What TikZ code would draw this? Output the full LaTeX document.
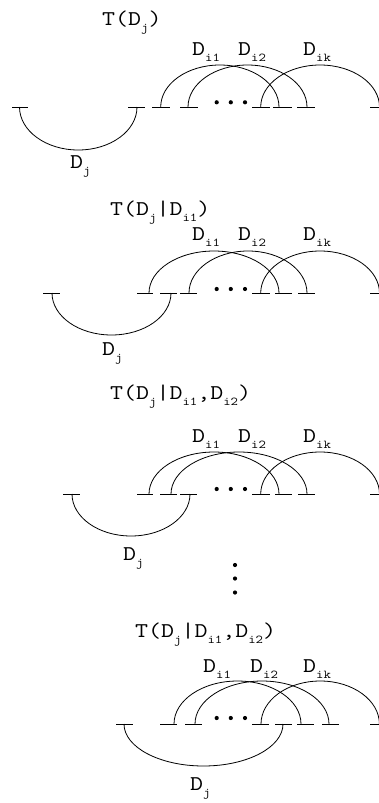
\documentclass[tikz,border=0pt]{standalone}
\usepackage{fontspec}
\newfontfamily\monofam[FakeStretch=1.2]{Latin Modern Mono}
\newcommand\subtxt[1]{\raisebox{-6pt}{\fontsize{12}{12}\selectfont #1}}
\newcommand\Dsub[1]{D\subtxt{#1}}
\tikzset{
  lbl/.style={anchor=base west, inner sep=0pt, font=\monofam\fontsize{21}{21}\selectfont},
  seg/.style={line width=0.8pt},
  arcline/.style={line width=0.8pt},
  dotmark/.style={fill=black},
}
\begin{document}
\begin{tikzpicture}[x=1pt,y=-1pt]
\useasboundingbox (0,0) rectangle (379,803);

% ---------- Panel 1 ----------
\node[lbl] (t1) at (102,25) {T(\Dsub{j})};
\node[lbl] (a1) at (192,55) {\Dsub{i1}};
\node[lbl] (b1) at (238,55) {\Dsub{i2}};
\node[lbl] (c1) at (303,55) {\Dsub{ik}};
\node[lbl] (j1) at (70,168) {\Dsub{j}};
\foreach \a/\b in {12/28,128/145,152/170,180/198,252/270,273/292,297/315,370/388}
  \draw[seg] (\a,107) -- (\b,107);
\draw[arcline] (19.5,107) arc[start angle=180,end angle=360,x radius=58.75pt,y radius=43pt];
\draw[arcline] (160.7,107) arc[start angle=180,end angle=0,x radius=59.15pt,y radius=42pt];
\draw[arcline] (188,107) arc[start angle=180,end angle=0,x radius=59.5pt,y radius=42pt];
\draw[arcline] (260.7,107) arc[start angle=180,end angle=0,x radius=59.4pt,y radius=42pt];
\foreach \x in {216.7,230.8,245} \fill[dotmark] (\x,102.3) circle[radius=2.1pt];

% ---------- Panel 2 ----------
\node[lbl] (t2) at (110,215) {T(\Dsub{j}|\Dsub{i1})};
\node[lbl] (a2) at (192,240) {\Dsub{i1}};
\node[lbl] (b2) at (238,240) {\Dsub{i2}};
\node[lbl] (c2) at (303,240) {\Dsub{ik}};
\node[lbl] (j2) at (102,355) {\Dsub{j}};
\foreach \a/\b in {43/60,137/153,160/177,180/197,252/270,275/292,298/315,370/388}
  \draw[seg] (\a,293) -- (\b,293);
\draw[arcline] (52,293) arc[start angle=180,end angle=360,x radius=59.5pt,y radius=42pt];
\draw[arcline] (149,293) arc[start angle=180,end angle=0,x radius=65pt,y radius=42pt];
\draw[arcline] (189,293) arc[start angle=180,end angle=0,x radius=59pt,y radius=42pt];
\draw[arcline] (260.7,293) arc[start angle=180,end angle=0,x radius=59.4pt,y radius=42pt];
\foreach \x in {216.7,230.8,245} \fill[dotmark] (\x,289) circle[radius=2.1pt];

% ---------- Panel 3 ----------
\node[lbl] (t3) at (110,399) {T(\Dsub{j}|\Dsub{i1},\Dsub{i2})};
\node[lbl] (a3) at (192,442) {\Dsub{i1}};
\node[lbl] (b3) at (238,442) {\Dsub{i2}};
\node[lbl] (c3) at (303,442) {\Dsub{ik}};
\node[lbl] (j3) at (123,560) {\Dsub{j}};
\foreach \a/\b in {63/80,137/153,160/177,180/197,252/270,275/292,298/315,370/388}
  \draw[seg] (\a,494) -- (\b,494);
\draw[arcline] (72,494) arc[start angle=180,end angle=360,x radius=59pt,y radius=42pt];
\draw[arcline] (149,494) arc[start angle=180,end angle=0,x radius=65pt,y radius=42pt];
\draw[arcline] (171,494) arc[start angle=180,end angle=0,x radius=68pt,y radius=42pt];
\draw[arcline] (260.7,494) arc[start angle=180,end angle=0,x radius=59.4pt,y radius=42pt];
\foreach \x in {216.7,230.8,245} \fill[dotmark] (\x,489) circle[radius=2.1pt];

% vertical dots
\foreach \y in {565,578.5,592.5} \fill[dotmark] (235,\y) circle[radius=2.1pt];

% ---------- Panel 4 ----------
\node[lbl] (t4) at (135,637) {T(\Dsub{j}|\Dsub{i1},\Dsub{i2})};
\node[lbl] (a4) at (203,672) {\Dsub{i1}};
\node[lbl] (b4) at (250,672) {\Dsub{i2}};
\node[lbl] (c4) at (303,672) {\Dsub{ik}};
\node[lbl] (j4) at (190,790) {\Dsub{j}};
\foreach \a/\b in {116/133,160/177,185/202,252/269,275/292,297/314,322/339,370/388}
  \draw[seg] (\a,724) -- (\b,724);
\draw[arcline] (124,724) arc[start angle=180,end angle=360,x radius=79.5pt,y radius=42pt];
\draw[arcline] (174,724) arc[start angle=180,end angle=0,x radius=63.5pt,y radius=43pt];
\draw[arcline] (195,724) arc[start angle=180,end angle=0,x radius=67pt,y radius=43pt];
\draw[arcline] (261,724) arc[start angle=180,end angle=0,x radius=59.2pt,y radius=43pt];
\foreach \x in {216.7,230.8,245} \fill[dotmark] (\x,718) circle[radius=2.1pt];
\end{tikzpicture}
\end{document}
